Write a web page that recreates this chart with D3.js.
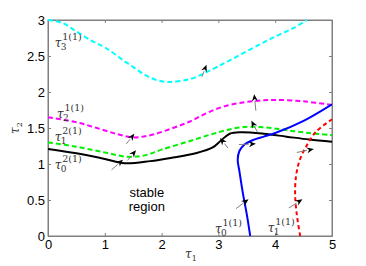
<!DOCTYPE html>
<html><head><meta charset="utf-8">
<script src="https://cdn.jsdelivr.net/npm/d3@7"></script>
<style>body{margin:0;background:#fff}svg{display:block}</style>
</head><body>
<svg id="c" width="366" height="266"></svg>
<script>
const xTicks=[0,1,2,3,4,5];
const yTicks=[0,0.5,1,1.5,2,2.5,3];
// curves: [tau1, tau2]
const cyanTau3=[[0,3.0],[0.25,2.96],[0.5,2.84],[0.75,2.72],[1,2.62],[1.4,2.4],[1.8,2.2],[2.1,2.14],[2.5,2.18],[2.8,2.28],[3.2,2.44],[3.7,2.65],[4.0,2.77],[4.3,2.88],[4.56,3.0]];
const magTau2=[[0,1.65],[0.5,1.58],[0.86,1.5],[1.2,1.42],[1.5,1.37],[1.8,1.4],[2.2,1.5],[2.5,1.59],[2.8,1.71],[3.1,1.8],[3.4,1.85],[3.7,1.88],[4.0,1.89],[4.5,1.87],[5,1.82]];
const greenTau1=[[0,1.3],[0.5,1.24],[1,1.16],[1.4,1.1],[1.7,1.12],[2,1.2],[2.5,1.32],[3,1.44],[3.4,1.51],[3.8,1.51],[4.2,1.47],[4.6,1.43],[5,1.4]];
const blackTau0=[[0,1.21],[0.5,1.15],[1,1.07],[1.35,1.01],[1.8,1.04],[2.2,1.09],[2.6,1.15],[2.9,1.23],[3.05,1.33],[3.2,1.42],[3.4,1.44],[3.8,1.42],[4.2,1.38],[4.6,1.34],[5,1.31]];
const blueTau0=[[3.56,0],[3.5,0.3],[3.43,0.6],[3.37,0.9],[3.34,1.06],[3.37,1.18],[3.46,1.27],[3.6,1.33],[3.8,1.38],[4.0,1.43],[4.5,1.6],[5,1.83]];
const redTau1=[[4.44,0],[4.38,0.3],[4.35,0.6],[4.37,0.85],[4.43,1.05],[4.55,1.25],[4.72,1.45],[5,1.62]];
// arrows: [fromX,fromY,toX,toY]
const arrows=[[2.71,2.21,2.79,2.38],[3.66,1.74,3.63,1.97],[3.69,1.44,3.58,1.6],[1.38,1.28,1.52,1.42],[1.4,1.05,1.55,1.19],[1.12,0.92,1.32,1.06],[3.17,1.22,3.03,1.36],[3.36,1.27,3.66,1.28],[3.31,0.38,3.53,0.51],[4.38,1.16,4.68,1.21],[4.24,0.39,4.48,0.51]];
const curveLabels=[
 {x:0.12,y:2.625,sub:"3",sup:"1(1)"},
 {x:0.16,y:1.64,sub:"2",sup:"1(1)"},
 {x:0.12,y:1.32,sub:"1",sup:"2(1)"},
 {x:0.12,y:0.93,sub:"0",sup:"2(1)"},
 {x:2.94,y:0.04,sub:"0",sup:"1(1)"},
 {x:3.87,y:0.055,sub:"1",sup:"1(1)"}
];
const regionText=["stable","region"];

const svg=d3.select("#c");
const L=48,R=332,T=20,B=236;
const x=d3.scaleLinear().domain([0,5]).range([L,R]);
const y=d3.scaleLinear().domain([0,3]).range([B,T]);

svg.append("rect").attr("x",L).attr("y",T).attr("width",R-L).attr("height",B-T)
  .attr("fill","none").attr("stroke","#7f7f7f").attr("stroke-width",1);

const ax=svg.append("g").attr("transform",`translate(0,${B})`)
  .call(d3.axisBottom(x).tickValues(xTicks).tickFormat(d3.format("d")).tickSizeInner(-3).tickSizeOuter(0).tickPadding(4));
const ay=svg.append("g").attr("transform",`translate(${L},0)`)
  .call(d3.axisLeft(y).tickValues(yTicks).tickFormat(d=>String(d)).tickSizeInner(-3).tickSizeOuter(0).tickPadding(3));
const axT=svg.append("g").attr("transform",`translate(0,${T})`)
  .call(d3.axisTop(x).tickValues(xTicks).tickFormat("").tickSizeInner(-3).tickSizeOuter(0));
const ayR=svg.append("g").attr("transform",`translate(${R},0)`)
  .call(d3.axisRight(y).tickValues(yTicks).tickFormat("").tickSizeInner(-3).tickSizeOuter(0));
[ax,ay,axT,ayR].forEach(g=>{g.select(".domain").attr("stroke","#7f7f7f");
  g.selectAll(".tick line").attr("stroke","#7f7f7f");
  g.selectAll("text").attr("font-family","Liberation Sans, Arial, sans-serif").attr("font-size",13).attr("fill","#000");});

const line=d3.line().x(d=>x(d[0])).y(d=>y(d[1])).curve(d3.curveCatmullRom.alpha(0.5));
svg.append("clipPath").attr("id","cp").append("rect").attr("x",L).attr("y",T-1).attr("width",R-L).attr("height",B-T+1);
const series=[
 {d:cyanTau3,c:"#00ffff",dash:"5,3"},
 {d:magTau2,c:"#ff00ff",dash:"5,3"},
 {d:greenTau1,c:"#00f000",dash:"5,3"},
 {d:blackTau0,c:"#000000",dash:null},
 {d:blueTau0,c:"#0000ff",dash:null},
 {d:redTau1,c:"#ff0000",dash:"4,3"}
];
series.forEach(s=>{
 svg.append("path").attr("d",line(s.d)).attr("fill","none").attr("stroke",s.c)
  .attr("stroke-width",2).attr("stroke-dasharray",s.dash).attr("clip-path","url(#cp)");
});

// arrows
arrows.forEach(a=>{
 const x1=x(a[0]),y1=y(a[1]),x2=x(a[2]),y2=y(a[3]);
 const ang=Math.atan2(y2-y1,x2-x1);
 const hl=7,hw=3;
 const bx=x2-hl*Math.cos(ang),by=y2-hl*Math.sin(ang);
 svg.append("line").attr("x1",x1).attr("y1",y1).attr("x2",bx).attr("y2",by).attr("stroke","#808080").attr("stroke-width",1);
 const nx=-Math.sin(ang),ny=Math.cos(ang);
 const ix=x2-hl*0.7*Math.cos(ang),iy=y2-hl*0.7*Math.sin(ang);
 svg.append("path").attr("d",`M${x2},${y2}L${bx+nx*hw},${by+ny*hw}L${ix},${iy}L${bx-nx*hw},${by-ny*hw}Z`).attr("fill","#000");
});

// curve labels
curveLabels.forEach(l=>{
 const px=x(l.x),py=y(l.y);
 const g=svg.append("g").attr("font-family","DejaVu Serif, serif").attr("fill","#333");
 g.append("text").attr("x",px).attr("y",py).attr("font-style","italic").attr("font-size",12).text("τ");
 g.append("text").attr("x",px+6).attr("y",py+3).attr("font-size",9).text(l.sub);
 g.append("text").attr("x",px+7.5).attr("y",py-7).attr("font-size",9.5).text(l.sup);
});

// stable region
regionText.forEach((t,i)=>{
 svg.append("text").attr("x",x(1.74)).attr("y",y(0.54)+i*14).attr("text-anchor","middle")
  .attr("font-family","Liberation Sans, Arial, sans-serif").attr("font-size",13).text(t);
});

// axis labels
const xl=svg.append("text").attr("x",185).attr("y",258).attr("font-family","DejaVu Serif, serif").attr("fill","#333");
xl.append("tspan").attr("font-style","italic").attr("font-size",12).text("τ");
xl.append("tspan").attr("font-size",8).attr("dy",3).text("1");
const yl=svg.append("text").attr("transform","translate(19,134) rotate(-90)").attr("font-family","DejaVu Serif, serif").attr("fill","#333");
yl.append("tspan").attr("font-style","italic").attr("font-size",12).text("τ");
yl.append("tspan").attr("font-size",8).attr("dy",3).text("2");
</script>
</body></html>
